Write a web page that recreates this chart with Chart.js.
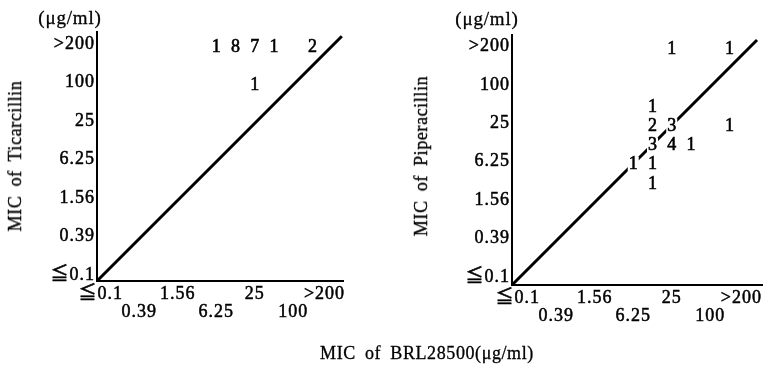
<!DOCTYPE html>
<html><head><meta charset="utf-8">
<script src="https://cdn.jsdelivr.net/npm/chart.js@4.4.0/dist/chart.umd.min.js"></script>
<style>
html,body{margin:0;padding:0;background:#fff;overflow:hidden;width:768px;height:366px;}
#wrap{position:relative;width:768px;height:366px;background:#fff;}
canvas{position:absolute;top:0;}
.t{position:absolute;font-family:'Liberation Serif','DejaVu Serif',serif;color:#000;white-space:nowrap;line-height:1;font-size:18px;letter-spacing:0.6px;word-spacing:4px;-webkit-text-stroke:0.3px #000;}
.c{transform:translate(-50%,-50%);}
.r{transform:translate(-50%,-50%) rotate(-90deg);}
</style></head><body>
<div id="wrap">
<canvas id="c1" width="384" height="366" style="left:0"></canvas>
<canvas id="c2" width="384" height="366" style="left:384px"></canvas>
<div class="t c" style="left:70px;top:17px;font-size:19px;letter-spacing:0.8px">(μg/ml)</div>
<div class="t c" style="left:487px;top:18px;font-size:19px;letter-spacing:0.8px">(μg/ml)</div>
<div class="t r" style="left:15px;top:156px">MIC of Ticarcillin</div>
<div class="t r" style="left:421px;top:156px">MIC of Piperacillin</div>
<div class="t c" style="left:427px;top:353px">MIC of BRL28500(μg/ml)</div>
</div>
<script>
// MIC levels (twofold dilutions); axes are in level-index units
const levels = ['≦0.1','0.2','0.39','0.78','1.56','3.13','6.25','12.5','25','50','100','200','>200'];
const tickIdx = [0,2,4,6,8,10,12];

// Left panel: BRL28500 vs Ticarcillin (number of strains)
const ticBRL   = ['6.25','12.5','25','50','200','25'];
const ticTIC   = ['>200','>200','>200','>200','>200','100'];
const ticCount = [1,8,7,1,2,1];

// Right panel: BRL28500 vs Piperacillin (number of strains)
const pipBRL   = ['25','200','12.5','12.5','25','200','12.5','25','50','6.25','12.5','12.5'];
const pipPIP   = ['>200','>200','50','25','25','25','12.5','12.5','12.5','6.25','6.25','3.13'];
const pipCount = [1,1,1,2,3,1,3,4,1,1,1,1];

const FONT = "'Liberation Serif','Noto Sans CJK JP','DejaVu Sans',serif";

const spacing = {
  id: 'spacing',
  beforeDraw(chart){ chart.ctx.letterSpacing = '1px'; }
};

const countLabels = {
  id:'countLabels',
  afterDatasetsDraw(chart){
    const ctx = chart.ctx;
    chart.data.datasets.forEach((ds,di)=>{
      if(!ds.counts) return;
      const meta = chart.getDatasetMeta(di);
      ctx.save();
      ctx.letterSpacing = '0px';
      ctx.font = '18px ' + FONT;
      ctx.textAlign = 'center';
      ctx.textBaseline = 'middle';
      ctx.lineWidth = 0.6;
      ctx.strokeStyle = '#000';
      meta.data.forEach((el,i)=>{
        const s = String(ds.counts[i]);
        const w = ctx.measureText(s).width;
        ctx.fillStyle = '#fff';
        ctx.fillRect(el.x - w/2 - 1, el.y - 7, w + 2, 15);
        ctx.fillStyle = '#000';
        ctx.fillText(s, el.x, el.y + 1);
        ctx.strokeText(s, el.x, el.y + 1);
      });
      ctx.restore();
    });
  }
};

// trailing space keeps the wide ">200" label from running off the right edge
const xLabel = v => (v === 12 ? levels[v] + '\u2002\u2009' : levels[v]);

function makeChart(id, c){
  const pts = c.xs.map((v,i)=>({x: levels.indexOf(v), y: levels.indexOf(c.ys[i])}));
  const tickFont = {family: FONT, size: 18, lineHeight: 1.0};
  return new Chart(document.getElementById(id), {
    type: 'scatter',
    data: {datasets: [
      {data: pts, counts: c.n, pointRadius: 0, pointHoverRadius: 0},
      {data: [{x:c.min, y:c.min}, {x:c.diagEnd, y:c.diagEnd}], showLine: true,
       borderColor: '#000', borderWidth: 3, pointRadius: 0, clip: false}
    ]},
    options: {
      responsive: false, animation: false, events: [],
      layout: {padding: c.pad},
      plugins: {legend: {display: false}, tooltip: {enabled: false}},
      scales: {
        x: {
          type: 'linear', min: c.min, max: c.xmax,
          grid: {display: false, drawTicks: false, tickLength: 0},
          border: {display: true, color: '#000', width: 2},
          afterBuildTicks: s => { s.ticks = tickIdx.map(v => ({value: v})); },
          afterFit: s => { s.height = c.xh; s.paddingLeft = 0; s.paddingRight = 0; },
          ticks: {autoSkip: false, maxRotation: 0, minRotation: 0, padding: 4, color: '#000', font: tickFont,
                  textStrokeColor: '#000', textStrokeWidth: 0.5,
                  callback: v => ((v/2) % 2 === 0 ? xLabel(v) : ['', xLabel(v)])}
        },
        y: {
          type: 'linear', min: c.min, max: c.ymax,
          grid: {display: false, drawTicks: false, tickLength: 0},
          border: {display: true, color: '#000', width: 2},
          afterBuildTicks: s => { s.ticks = tickIdx.map(v => ({value: v})); },
          afterFit: s => { s.width = c.yw; s.paddingTop = 0; s.paddingBottom = 0; },
          ticks: {autoSkip: false, padding: 2, labelOffset: -2, color: '#000', font: tickFont,
                  textStrokeColor: '#000', textStrokeWidth: 0.5,
                  callback: v => levels[v]}
        }
      }
    },
    plugins: [spacing, countLabels]
  });
}

makeChart('c1', {xs: ticBRL, ys: ticTIC, n: ticCount,
  min: -0.2, xmax: 12.58, ymax: 12.74, diagEnd: 12.52,
  pad: {top: 32, right: 41, left: 0, bottom: 0}, yw: 97, xh: 85});

makeChart('c2', {xs: pipBRL, ys: pipPIP, n: pipCount,
  min: -0.3, xmax: 12.69, ymax: 12.69, diagEnd: 12.43,
  pad: {top: 35, right: 6, left: 0, bottom: 0}, yw: 128, xh: 81});
</script>
</body></html>
